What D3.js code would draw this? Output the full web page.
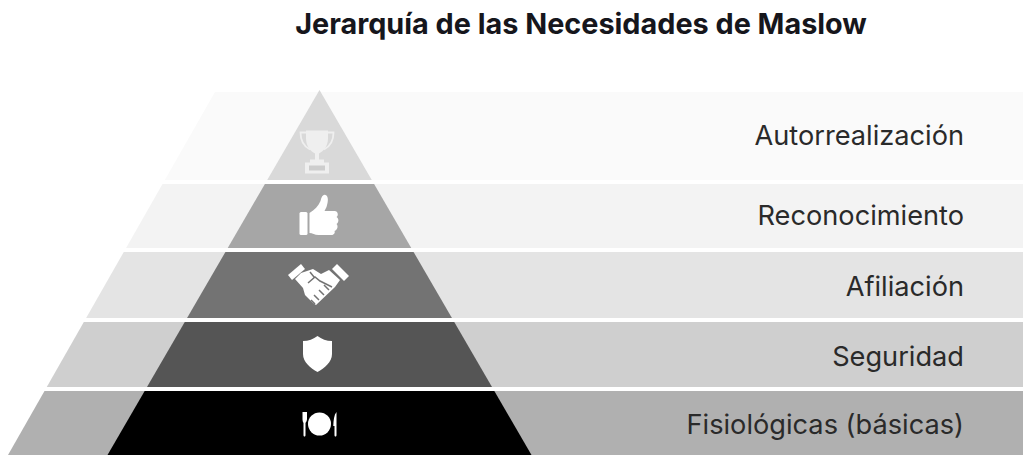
<!DOCTYPE html>
<html>
<head>
<meta charset="utf-8">
<script src="https://d3js.org/d3.v7.min.js"></script>
<style>
    html, body { margin: 0; padding: 0; background: #fff; overflow: hidden; }
    text { font-family: Inter, Roboto, sans-serif; fill: #2a2a2a; }
</style>
</head>
<body>
<div id="graph"></div>
<script>
var chartTitle = "Jerarquía de las Necesidades de Maslow";

// top of the pyramid first
var levels = ["Autorrealización", "Reconocimiento", "Afiliación", "Seguridad", "Fisiológicas (básicas)"];
var bandHeights = [88, 64, 66, 65, 64];
var innerColors = ["#d9d9d9", "#a6a6a6", "#737373", "#555555", "#000000"];
var outerColors = ["#fafafa", "#f3f3f3", "#e4e4e4", "#cfcfcf", "#b0b0b0"];

var width = 1023;
var height = 455;
var gap = 4;
var bandTop = 92;

// baseline of each label, measured from the top of its band
var labelOffset = [53, 41, 44, 44, 43];

// icons are drawn around 0,0 in px
var iconOffset = [
    [-2.5, 59.5],
    [-1, 31],
    [-1.5, 32],
    [-2, 32],
    [0, 33]
];

var svg = d3.select('#graph')
    .append('svg')
    .attr('width', width)
    .attr('height', height)
    .style('display', 'block');

// work out where each band starts
var bands = [];
var pos = 0;
bandHeights.forEach(function(h, i) {
    bands.push({ name: levels[i], start: pos, end: pos + h, i: i });
    pos += h + gap;
});

var yScale = d3.scaleLinear()
    .domain([0, pos - gap])
    .range([bandTop, height]);

// half width of the dark pyramid, 0 at the apex
var halfInner = d3.scaleLinear()
    .domain([-2, pos - gap])
    .range([0, 212]);

// left edge of the pale band behind it
var outerLeft = d3.scaleLinear()
    .domain([0, pos - gap])
    .range([215, 8]);

var cx = 319.5;

svg.append("g").selectAll("polygon")
    .data(bands)
    .enter()
    .append("polygon")
    .attr("points", function(d) {
        return [
            [outerLeft(d.start), yScale(d.start)],
            [width, yScale(d.start)],
            [width, yScale(d.end)],
            [outerLeft(d.end), yScale(d.end)]
        ].join(" ");
    })
    .style("fill", function(d) { return outerColors[d.i]; });

svg.append("g").selectAll("polygon")
    .data(bands)
    .enter()
    .append("polygon")
    .attr("points", function(d) {
        // first band runs up to the apex
        var s = d.i === 0 ? -2 : d.start;
        return [
            [cx - halfInner(s), yScale(s)],
            [cx + halfInner(s), yScale(s)],
            [cx + halfInner(d.end), yScale(d.end)],
            [cx - halfInner(d.end), yScale(d.end)]
        ].join(" ");
    })
    .style("fill", function(d) { return innerColors[d.i]; });

svg.append("g").selectAll("text")
    .data(bands)
    .enter()
    .append("text")
    .text(function(d) { return d.name; })
    .attr("x", 964)
    .attr("y", function(d) { return yScale(d.start + labelOffset[d.i]); })
    .style("text-anchor", "end")
    .style("font-size", "27.2px")
    .style("font-weight", 400);

svg.append("text")
    .text(chartTitle)
    .attr("x", 581)
    .attr("y", 34)
    .style("text-anchor", "middle")
    .style("font-size", "28.8px")
    .style("font-weight", 700)
    .style("fill", "#16161c");

// icons
var icons = svg.append("g").selectAll("g")
    .data(bands)
    .enter()
    .append("g")
    .attr("transform", function(d) {
        return "translate(" + (cx + iconOffset[d.i][0]) + "," + yScale(d.start + iconOffset[d.i][1]) + ")";
    });

function drawTrophy(g) {
    var light = "#efefef";
    g.append("path")
        .attr("d", "M-11,-21H11V-13C11,-5 6,0 2,2V9H-2V2C-6,0 -11,-5 -11,-13Z")
        .style("fill", light);
    g.append("path")
        .attr("d", "M-11,-19H-16.5C-16.5,-10 -13,-5 -7,-2M11,-19H16.5C16.5,-10 13,-5 7,-2")
        .style("fill", "none")
        .style("stroke", light)
        .style("stroke-width", 1.8);
    g.append("path")
        .attr("d", "M-7,8H7V11H12V22H-12V11H-7Z")
        .style("fill", light);
    g.append("rect")
        .attr("x", -8).attr("y", 14).attr("width", 16).attr("height", 5)
        .style("fill", "#cdcdcd");
}

function drawThumb(g) {
    g.append("rect")
        .attr("x", -19).attr("y", -3).attr("width", 8).attr("height", 23).attr("rx", 1.5)
        .style("fill", "#fff");
    g.append("path")
        .attr("d", "M-9,-2C-4,-5 0,-9 2,-14C3,-19 5,-21 7,-20C10,-19 10,-14 8,-8L6,-4H16C20,-4 20,1 18,2C21,4 20,8 18,9C20,11 19,15 16,16C17,18 15,20 13,20H0C-4,20 -6,18 -9,18Z")
        .style("fill", "#fff");
}

function drawHands(g) {
    var white = "#fff";
    // cuffs
    g.append("path")
        .attr("d", "M-30,-9L-17,-20L-13,-15L-26,-4Z")
        .style("fill", white);
    g.append("path")
        .attr("d", "M14,-15L19,-20L31,-8L26,-3Z")
        .style("fill", white);
    // both hands as one shape
    g.append("path")
        .attr("d", "M-17,-11L-5,-15L3,-10L11,-14L22,-4L17,3L-2,21L-5,19L-13,11L-15,4L-23,-5Z")
        .style("fill", white);
    // line between the hands and the gaps between the fingers
    g.append("path")
        .attr("d", "M-10,-1L-3,-7L2,-3L14,3M-4,-7L-8,-12M11,6L6,1M6,11L1,6M1,16L-4,11M-3,20L-7,16")
        .style("fill", "none")
        .style("stroke", innerColors[2])
        .style("stroke-width", 1.5);
}

function drawShield(g) {
    g.append("path")
        .attr("d", "M0,-18C4,-15 9,-13 14.5,-13V0C14.5,8 7,14 0,18C-7,14 -14.5,8 -14.5,0V-13C-9,-13 -4,-15 0,-18Z")
        .style("fill", "#fff");
}

function drawPlate(g) {
    g.append("circle").attr("r", 11.5).style("fill", "#fff");
    g.append("path")
        .attr("d", "M-17,-12H-12.5V-5C-12.5,-3 -13.5,-2 -14,-1V11C-14,13 -16,13 -16,11V-1C-16.5,-2 -17,-3 -17,-5Z")
        .style("fill", "#fff");
    g.append("path")
        .attr("d", "M17,-12V11C17,13 15,13 15,11V2H13.8C14,-4 14.5,-9 17,-12Z")
        .style("fill", "#fff");
}

var drawers = [drawTrophy, drawThumb, drawHands, drawShield, drawPlate];
icons.each(function(d) {
    drawers[d.i](d3.select(this));
});
</script>
</body>
</html>
